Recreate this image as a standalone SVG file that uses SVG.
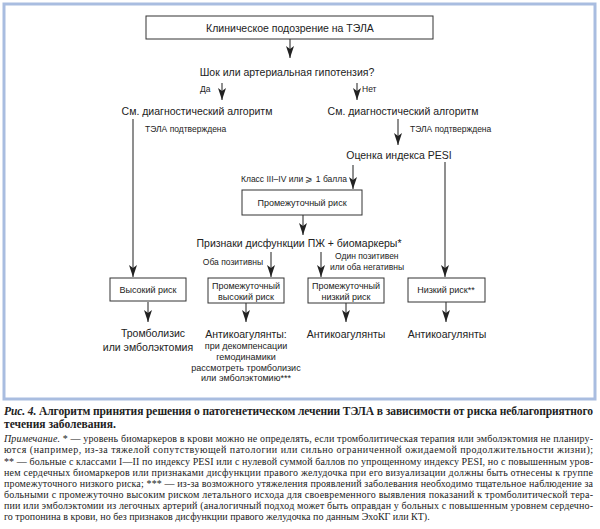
<svg xmlns="http://www.w3.org/2000/svg" width="600" height="529" viewBox="0 0 600 529">
<defs>
<style>
.n{font-family:"Liberation Sans",Arial,sans-serif;fill:#222}
.L{font-size:10.5px}
.M{font-size:9px}
.S{font-size:8.5px}
.c{text-anchor:middle}
.box{fill:#fff;stroke:#333;stroke-width:1}
.conn line{stroke:#333;stroke-width:1.1;marker-end:url(#ah)}
.cap{font-family:"Liberation Serif","Times New Roman",serif;fill:#222}
.h{font-size:11.5px;font-weight:bold}
.p{font-size:10px}
</style>
<marker id="ah" viewBox="0 0 12 8" refX="12" refY="4" markerWidth="12" markerHeight="8" markerUnits="userSpaceOnUse" orient="auto">
<path d="M0,0 L12,4 L0,8 L3,4 z" fill="#222"/>
</marker>
</defs>
<rect x="0" y="0" width="600" height="529" fill="#fff"/>
<rect x="4" y="4" width="591" height="395" fill="none" stroke="#a9bde0" stroke-width="3"/>

<g class="conn">
<line x1="290" y1="39" x2="290" y2="58"/>
<line x1="222" y1="83" x2="222" y2="100"/>
<line x1="357" y1="83" x2="357" y2="100"/>
<line x1="133" y1="119" x2="133" y2="277"/>
<line x1="398" y1="119" x2="398" y2="145"/>
<line x1="353" y1="165" x2="353" y2="189"/>
<line x1="303" y1="215" x2="303" y2="235"/>
<line x1="271" y1="252" x2="271" y2="277"/>
<line x1="321" y1="252" x2="321" y2="277"/>
<line x1="445" y1="162" x2="445" y2="277"/>
<line x1="148" y1="302" x2="148" y2="322"/>
<line x1="246" y1="303" x2="246" y2="322"/>
<line x1="346" y1="303" x2="346" y2="322"/>
<line x1="446" y1="302" x2="446" y2="322"/>
</g>

<g id="start">
<rect class="box" x="146" y="16" width="287" height="23"/>
<text class="n L c" x="290" y="31.5">Клиническое подозрение на ТЭЛА</text>
</g>
<g id="shock">
<text class="n L c" x="287" y="75.5">Шок или артериальная гипотензия?</text>
</g>
<g id="labels-yesno">
<text class="n S" x="200" y="92">Да</text>
<text class="n S" x="362" y="92">Нет</text>
</g>
<g id="diag-left">
<text class="n L c" x="197" y="115">См. диагностический алгоритм</text>
<text class="n S" x="145" y="132">ТЭЛА подтверждена</text>
</g>
<g id="diag-right">
<text class="n L c" x="403" y="115">См. диагностический алгоритм</text>
<text class="n S" x="410" y="132">ТЭЛА подтверждена</text>
</g>
<g id="pesi">
<text class="n L c" x="399" y="158.5">Оценка индекса PESI</text>
<text class="n S" x="347" y="182" text-anchor="end">Класс III–IV или ⩾ 1 балла</text>
</g>
<g id="intermediate">
<rect class="box" x="242" y="190" width="120" height="25"/>
<text class="n M c" x="302" y="206">Промежуточный риск</text>
</g>
<g id="signs">
<text class="n L c" x="299" y="246.5">Признаки дисфункции ПЖ + биомаркеры*</text>
<text class="n S" x="263" y="265" text-anchor="end">Оба позитивны</text>
<text class="n S" x="335" y="259">Один позитивен</text>
<text class="n S" x="330" y="270">или оба негативны</text>
</g>
<g id="high">
<rect class="box" x="110" y="278" width="76" height="23"/>
<text class="n M c" x="148" y="293">Высокий риск</text>
<text class="n L c" x="153" y="337">Тромболизис</text>
<text class="n L c" x="148" y="351">или эмболэктомия</text>
</g>
<g id="int-high">
<rect class="box" x="208" y="278" width="76" height="25"/>
<text class="n M c" x="246" y="289">Промежуточный</text>
<text class="n M c" x="246" y="300">высокий риск</text>
<text class="n L c" x="246" y="338">Антикоагулянты:</text>
<text class="n M c" x="246" y="349">при декомпенсации</text>
<text class="n M c" x="246" y="360">гемодинамики</text>
<text class="n M c" x="246" y="370.5">рассмотреть тромболизис</text>
<text class="n M c" x="246" y="381">или эмболэктомию***</text>
</g>
<g id="int-low">
<rect class="box" x="308" y="278" width="76" height="25"/>
<text class="n M c" x="346" y="289">Промежуточный</text>
<text class="n M c" x="346" y="300">низкий риск</text>
<text class="n L c" x="346" y="338">Антикоагулянты</text>
</g>
<g id="low">
<rect class="box" x="408" y="278" width="77" height="24"/>
<text class="n M c" x="446" y="293">Низкий риск**</text>
<text class="n L c" x="447" y="338">Антикоагулянты</text>
</g>

<g id="caption">
<text class="cap h" x="4" y="415" textLength="589" lengthAdjust="spacing"><tspan font-style="italic">Рис. 4.</tspan> Алгоритм принятия решения о патогенетическом лечении ТЭЛА в зависимости от риска неблагоприятного</text>
<text class="cap h" x="4" y="428">течения заболевания.</text>
<text class="cap p" x="4" y="442" textLength="589" lengthAdjust="spacing"><tspan font-style="italic">Примечание.</tspan> * — уровень биомаркеров в крови можно не определять, если тромболитическая терапия или эмболэктомия не планиру-</text>
<text class="cap p" x="4" y="453" textLength="589" lengthAdjust="spacing">ются (например, из-за тяжелой сопутствующей патологии или сильно ограниченной ожидаемой продолжительности жизни);</text>
<text class="cap p" x="4" y="464.5" textLength="589" lengthAdjust="spacing">** — больные с классами I—II по индексу PESI или с нулевой суммой баллов по упрощенному индексу PESI, но с повышенным уров-</text>
<text class="cap p" x="4" y="475.5" textLength="589" lengthAdjust="spacing">нем сердечных биомаркеров или признаками дисфункции правого желудочка при его визуализации должны быть отнесены к группе</text>
<text class="cap p" x="4" y="486.5" textLength="589" lengthAdjust="spacing">промежуточного низкого риска; *** — из-за возможного утяжеления проявлений заболевания необходимо тщательное наблюдение за</text>
<text class="cap p" x="4" y="497.5" textLength="589" lengthAdjust="spacing">больными с промежуточно высоким риском летального исхода для своевременного выявления показаний к тромболитической тера-</text>
<text class="cap p" x="4" y="508.5" textLength="589" lengthAdjust="spacing">пии или эмболэктомии из легочных артерий (аналогичный подход может быть оправдан у больных с повышенным уровнем сердечно-</text>
<text class="cap p" x="4" y="519.5">го тропонина в крови, но без признаков дисфункции правого желудочка по данным ЭхоКГ или КТ).</text>
</g>
</svg>
